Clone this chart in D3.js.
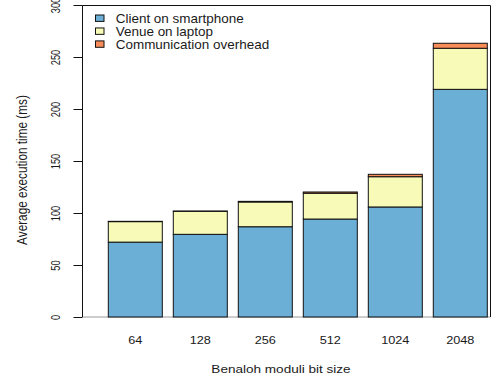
<!DOCTYPE html>
<html>
<head>
<meta charset="utf-8">
<script src="https://cdn.jsdelivr.net/npm/d3@7"></script>
<style>
  body { margin: 0; background: #fff; }
  text { font-family: "Liberation Sans", Arial, Helvetica, sans-serif; fill: #1a1a1a; }
</style>
</head>
<body>
<script>
// values (ms)
const BIT_SIZES = ['64', '128', '256', '512', '1024', '2048'];
const CLIENT_MS = [72, 79.5, 86.8, 94.2, 105.8, 218.9];
const VENUE_MS  = [19.7, 22.1, 23.8, 24.8, 29.1, 39.5];
const COMM_MS   = [0.3, 0.3, 0.6, 1.2, 2.3, 4.8];

const SERIES_KEYS  = ['client', 'venue', 'comm'];
const SERIES_NAMES = ['Client on smartphone', 'Venue on laptop', 'Communication overhead'];
const Y_TICKS = [0, 50, 100, 150, 200, 250, 300];

const COLORS = ['#6baed6', '#f7fbb7', '#f98d5a'];

document.addEventListener('DOMContentLoaded', () => {
  drawChart();
});

// the source picture is stretched sideways, so text gets a scaleX too
function stretch(x, y, sx, rotate) {
  return 'translate(' + x + ',' + y + ') scale(' + sx + ',1)' + (rotate ? ' rotate(-90)' : '');
}

function drawChart() {
  let width = 491;
  let height = 381;
  let left = 82.5, right = 490.5, top = 5.5, bottom = 317;

  let svg = d3.select('body').append('svg')
              .attr('width', width)
              .attr('height', height);

  let x = d3.scaleBand()
            .domain(BIT_SIZES)
            .range([102.8, 492.8])
            .paddingInner(11 / 65)
            .paddingOuter(5.5 / 65);

  let y = d3.scaleLinear()
            .domain([0, 300])
            .range([bottom, top - 0.5]);

  let rows = BIT_SIZES.map((size, i) => ({
    size: size, client: CLIENT_MS[i], venue: VENUE_MS[i], comm: COMM_MS[i]
  }));

  let stacked = d3.stack().keys(SERIES_KEYS)(rows);

  // baseline
  svg.append('line')
     .attr('x1', left).attr('x2', right)
     .attr('y1', bottom).attr('y2', bottom)
     .attr('stroke', '#9a9a9a');

  svg.append('g').selectAll('g')
     .data(stacked)
     .join('g')
     .attr('fill', (d, i) => COLORS[i])
     .selectAll('rect')
     .data(d => d)
     .join('rect')
     .attr('x', d => x(d.data.size))
     .attr('y', d => y(d[1]))
     .attr('width', x.bandwidth())
     .attr('height', d => y(d[0]) - y(d[1]))
     .attr('stroke', '#111')
     .attr('stroke-width', 1);

  // frame: left, top, right
  svg.append('path')
     .attr('d', 'M' + left + ',' + bottom + 'V' + top + 'H' + right + 'V' + bottom)
     .attr('fill', 'none')
     .attr('stroke', '#111');

  let yAxis = svg.append('g')
                 .attr('transform', 'translate(' + left + ',0)')
                 .call(d3.axisLeft(y).tickValues(Y_TICKS).tickSize(9).tickFormat(d3.format('d')));
  yAxis.select('.domain').remove();
  yAxis.selectAll('line').attr('stroke', '#111');
  yAxis.selectAll('text')
       .attr('x', null).attr('dy', null)
       .attr('fill', '#1a1a1a')
       .attr('font-size', 9.3)
       .attr('text-anchor', 'middle')
       .attr('transform', stretch(-22.5, 0, 1.3, true));

  let xAxis = svg.append('g')
                 .attr('transform', 'translate(0,' + bottom + ')')
                 .call(d3.axisBottom(x).tickSize(0));
  xAxis.select('.domain').remove();
  xAxis.selectAll('text')
       .attr('y', null).attr('dy', null)
       .attr('fill', '#1a1a1a')
       .attr('font-size', 10.6)
       .attr('transform', stretch(0, 26.5, 1.2, false));

  svg.append('text')
     .attr('text-anchor', 'middle')
     .attr('font-size', 11.3)
     .attr('transform', stretch(281, 373, 1.2, false))
     .text('Benaloh moduli bit size');

  svg.append('text')
     .attr('text-anchor', 'middle')
     .attr('font-size', 11.8)
     .attr('transform', stretch(26.5, 170, 1.25, true))
     .text('Average execution time (ms)');

  let legend = svg.append('g').selectAll('g')
                  .data(SERIES_NAMES)
                  .join('g')
                  .attr('transform', (d, i) => 'translate(0,' + (18.3 + i * 12.95) + ')');

  legend.append('rect')
        .attr('x', 95.5).attr('y', -3.3)
        .attr('width', 8.5).attr('height', 6.4)
        .attr('fill', (d, i) => COLORS[i])
        .attr('stroke', '#111');

  legend.append('text')
        .attr('font-size', 12.6)
        .attr('transform', stretch(115.7, 4.4, 1.07, false))
        .text(d => d);
}
</script>
</body>
</html>
